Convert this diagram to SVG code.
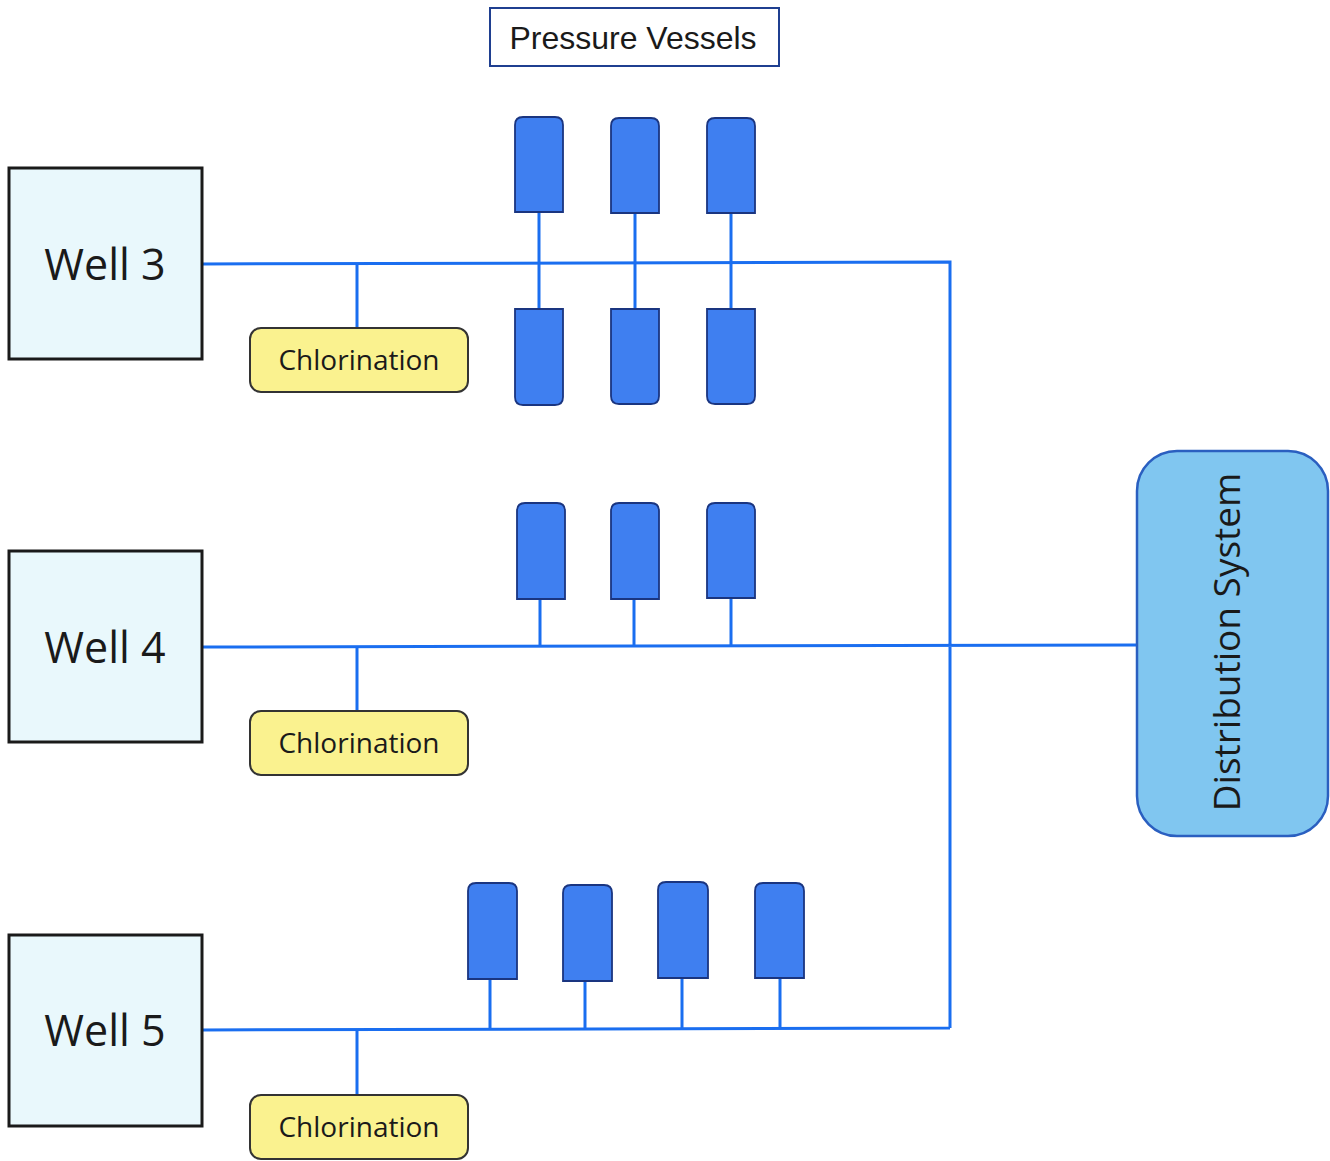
<svg xmlns="http://www.w3.org/2000/svg" width="1330" height="1161" viewBox="0 0 1330 1161">
<defs>
<style>
.well rect{fill:#e9f8fc;stroke:#1a1a1a;stroke-width:3}
.well text{font-family:"Open Sans","Noto Sans",sans-serif;font-size:43px;fill:#1a1a1a;text-anchor:middle}
.chl rect{fill:#faf28f;stroke:#333;stroke-width:2}
.chl text{font-family:"Open Sans","Noto Sans",sans-serif;font-size:28px;fill:#1a1a1a;text-anchor:middle}
.vessel{fill:#3f7ff0;stroke:#1a3580;stroke-width:1.8}
.pipe{stroke:#1a6ef0;stroke-width:3;fill:none}
</style>
</defs>
<rect width="1330" height="1161" fill="#ffffff"/>
<g id="connectors">
<path class="pipe" d="M202 264 L950 262 L950 1028 M202 647 L1137 645 M202 1030 L950 1028"/>
<path class="pipe" d="M357 264 V328 M357 647 V711 M357 1030 V1095"/>
<path class="pipe" d="M539 212 V309 M635 213 V309 M731 213 V309"/>
<path class="pipe" d="M540 599 V646 M634 599 V646 M731 598 V646"/>
<path class="pipe" d="M490 979 V1030 M585 981 V1030 M682 978 V1029 M780 978 V1029"/>
</g>
<g id="pressure-vessels-label">
<rect x="490" y="8" width="289" height="58" fill="#ffffff" stroke="#1f3f90" stroke-width="2"/>
<text x="633" y="49" font-family="Liberation Sans, Arial, sans-serif" font-size="32" fill="#1a1a1a" text-anchor="middle">Pressure Vessels</text>
</g>
<g id="well3" class="well"><rect x="9" y="168" width="193" height="191"/><text x="105" y="280">Well 3</text></g>
<g id="well4" class="well"><rect x="9" y="551" width="193" height="191"/><text x="105" y="663">Well 4</text></g>
<g id="well5" class="well"><rect x="9" y="935" width="193" height="191"/><text x="105" y="1046">Well 5</text></g>
<g id="chlorination3" class="chl"><rect x="250" y="328" width="218" height="64" rx="11"/><text x="359" y="370">Chlorination</text></g>
<g id="chlorination4" class="chl"><rect x="250" y="711" width="218" height="64" rx="11"/><text x="359" y="753">Chlorination</text></g>
<g id="chlorination5" class="chl"><rect x="250" y="1095" width="218" height="64" rx="11"/><text x="359" y="1137">Chlorination</text></g>
<g id="vessels-well3">
<path class="vessel" d="M515 212 V125 Q515 117 523 117 H555 Q563 117 563 125 V212 Z"/>
<path class="vessel" d="M611 213 V126 Q611 118 619 118 H651 Q659 118 659 126 V213 Z"/>
<path class="vessel" d="M707 213 V126 Q707 118 715 118 H747 Q755 118 755 126 V213 Z"/>
<path class="vessel" d="M515 309 V397 Q515 405 523 405 H555 Q563 405 563 397 V309 Z"/>
<path class="vessel" d="M611 309 V396 Q611 404 619 404 H651 Q659 404 659 396 V309 Z"/>
<path class="vessel" d="M707 309 V396 Q707 404 715 404 H747 Q755 404 755 396 V309 Z"/>
</g>
<g id="vessels-well4">
<path class="vessel" d="M517 599 V511 Q517 503 525 503 H557 Q565 503 565 511 V599 Z"/>
<path class="vessel" d="M611 599 V511 Q611 503 619 503 H651 Q659 503 659 511 V599 Z"/>
<path class="vessel" d="M707 598 V511 Q707 503 715 503 H747 Q755 503 755 511 V598 Z"/>
</g>
<g id="vessels-well5">
<path class="vessel" d="M468 979 V891 Q468 883 476 883 H509 Q517 883 517 891 V979 Z"/>
<path class="vessel" d="M563 981 V893 Q563 885 571 885 H604 Q612 885 612 893 V981 Z"/>
<path class="vessel" d="M658 978 V890 Q658 882 666 882 H700 Q708 882 708 890 V978 Z"/>
<path class="vessel" d="M755 978 V891 Q755 883 763 883 H796 Q804 883 804 891 V978 Z"/>
</g>
<g id="distribution-system">
<rect x="1137" y="451" width="191" height="385" rx="40" fill="#80c6f0" stroke="#2a5fc0" stroke-width="2.5"/>
<text transform="translate(1240 642) rotate(-90)" font-family="Open Sans, Noto Sans, sans-serif" font-size="37" fill="#1a1a1a" text-anchor="middle">Distribution System</text>
</g>
</svg>
